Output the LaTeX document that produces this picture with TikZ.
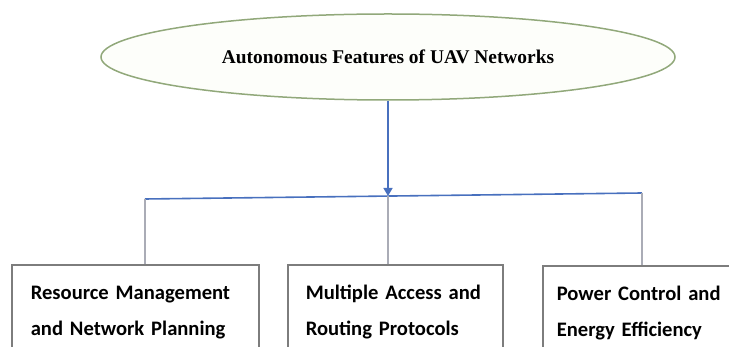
\documentclass[tikz,border=0pt]{standalone}
\usepackage{fontspec}
\setmainfont{Liberation Serif}
\newfontfamily\boxfont{Carlito}
\usetikzlibrary{shapes.geometric,arrows.meta}
\definecolor{ellline}{RGB}{145,168,122}
\definecolor{ellfill}{RGB}{253,254,250}
\definecolor{linkblue}{RGB}{72,112,190}
\definecolor{droplink}{RGB}{170,172,182}
\definecolor{boxgray}{RGB}{125,125,125}
\begin{document}
\begin{tikzpicture}[x=1pt,y=-1pt,
		featbox/.style={draw=boxgray, line width=1.6pt, anchor=north west, minimum height=95pt,
			align=left, inner ysep=0pt, font=\boxfont\bfseries\fontsize{20.6}{36}\selectfont},
		droplink/.style={draw=droplink, line width=1.2pt}]
			\useasboundingbox (0,0) rectangle (729,347);
			\clip (0,0) rectangle (729,347);
			
			%title
			\node (title) at (388,57) [ellipse, draw=ellline, fill=ellfill, line width=1.5pt,
				minimum width=574pt, minimum height=86pt, inner sep=0pt,
				font=\bfseries\fontsize{19.4}{22}\selectfont]{Autonomous Features of UAV Networks};
			
			%branch bar
			\coordinate (bl) at (145,199);
			\coordinate (bm) at (388,196);
			\coordinate (br) at (642,193);
			\draw[linkblue, line width=1.6pt] (bl) -- (br);
			\draw[linkblue, line width=1.6pt, -{Triangle[width=9pt,length=8pt]}] (title.south) -- (bm);
			
			%features
			\node (res) at (11,264) [featbox, inner xsep=19pt, text width=209pt]{Resource Management\\and Network Planning};
			\node (mac) at (287,264) [featbox, inner xsep=18pt, text width=179pt]{Multiple Access and\\Routing Protocols};
			\node (pow) at (542,265) [featbox, inner xsep=14pt, text width=180pt]{Power Control and\\Energy Efficiency};
			
			\draw[droplink] (bl) -- (bl |- res.north);
			\draw[droplink] (bm) -- (bm |- mac.north);
			\draw[droplink] (br) -- (br |- pow.north);
		\end{tikzpicture}
\end{document}
